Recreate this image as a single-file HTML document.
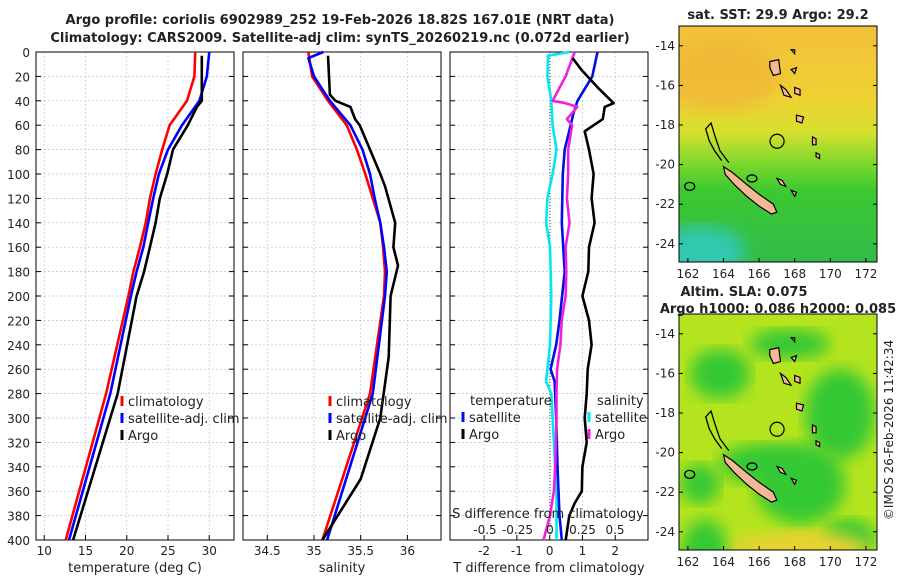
<!DOCTYPE html>
<html><head><meta charset="utf-8"><style>
body{margin:0;background:#fff}
svg text{font-family:"DejaVu Sans","Liberation Sans",sans-serif;fill:#222}
</style></head><body>
<svg id="fig" width="900" height="580" viewBox="0 0 900 580" xmlns="http://www.w3.org/2000/svg">
<defs>
<linearGradient id="sstg" x1="0" y1="0" x2="0" y2="1">
<stop offset="0" stop-color="#f2c03a"/><stop offset="0.3" stop-color="#f0d034"/>
<stop offset="0.45" stop-color="#d6e02e"/><stop offset="0.58" stop-color="#7ed82c"/>
<stop offset="0.7" stop-color="#3cc832"/><stop offset="1" stop-color="#32bc4a"/></linearGradient>
<filter id="blur8"><feGaussianBlur stdDeviation="8"/></filter>
<clipPath id="c1"><rect x="679" y="26" width="198" height="236"/></clipPath>
<clipPath id="c2"><rect x="679" y="314" width="198" height="236"/></clipPath>
</defs>
<text x="340" y="24" text-anchor="middle" font-size="13" font-weight="bold">Argo profile: coriolis 6902989_252 19-Feb-2026 18.82S 167.01E (NRT data)</text>
<text x="340" y="42" text-anchor="middle" font-size="13" font-weight="bold">Climatology: CARS2009. Satellite-adj clim: synTS_20260219.nc (0.072d earlier)</text>
<g id="panels"></g>
<g id="maps"></g>
<text transform="translate(893,430) rotate(-90)" text-anchor="middle" font-size="12">©IMOS 26-Feb-2026 11:42:34</text>
</svg>
<script>
// ---- data ----
const depthsT=[0,20,40,60,80,100,120,140,160,180,200,280,400];
const climT=[28.3,28.2,27.3,25.2,24.3,23.5,22.8,22.3,21.6,20.8,20.2,17.5,12.6];
const satT=[30.0,29.7,28.8,26.7,25.0,23.9,23.2,22.6,22.0,21.2,20.5,18.0,13.0];
const argoDepthT=[3,40,45,60,80,100,120,140,160,180,200,280,340,400];
const argoT=[29.1,29.1,28.5,27.4,25.6,24.9,24.0,23.5,22.8,22.1,21.2,18.9,16.2,13.5];
const depthsS=[0,20,40,60,80,100,120,140,160,180,200,280,400];
const climS=[34.94,34.98,35.15,35.35,35.46,35.55,35.63,35.71,35.74,35.76,35.75,35.6,35.09];
const satDepthS=[0,5,20,40,60,80,100,120,140,160,180,200,280,400];
const satS=[35.10,34.94,35.0,35.17,35.39,35.52,35.6,35.65,35.71,35.75,35.78,35.76,35.63,35.14];
const argoDepthS=[3,35,40,45,55,60,80,100,110,140,160,175,200,250,300,350,400];
const argoS=[35.15,35.17,35.23,35.39,35.44,35.49,35.6,35.71,35.76,35.87,35.85,35.9,35.82,35.8,35.71,35.5,35.09];
const dDepthT=[0,20,40,50,80,100,140,180,220,240,260,270,300,340,380,400];
const dSatT=[1.46,1.3,0.85,0.73,0.46,0.4,0.37,0.46,0.3,0.2,0.03,0.15,0.2,0.24,0.3,0.37];
const dArgoDepthT=[5,15,30,42,45,55,65,80,100,120,140,160,180,200,220,240,260,280,300,320,340,360,370,380,400];
const dArgoT=[0.7,0.98,1.5,1.95,1.68,1.62,1.07,1.2,1.34,1.28,1.37,1.2,1.18,1.0,1.2,1.28,1.16,1.13,1.07,1.13,1.0,0.98,0.76,0.6,0.49];
const dDepthS=[0,3,20,40,60,80,100,120,140,160,200,240,270,280,320,360,400];
const dSatS=[0.15,-0.015,-0.02,0.01,0.02,0.05,0.02,-0.02,-0.03,0,0.01,0,-0.03,0.01,0.03,0.05,0.05];
const dArgoDepthS=[0,20,40,42,45,55,60,80,100,120,140,160,180,200,220,240,260,280,300,340,360,380,400];
const dArgoS=[0.19,0.12,0.02,0.12,0.21,0.13,0.17,0.14,0.14,0.13,0.15,0.12,0.125,0.12,0.09,0.08,0.055,0.05,0.05,0.04,0.03,0,-0.05];
const depthTicks=[0,20,40,60,80,100,120,140,160,180,200,220,240,260,280,300,320,340,360,380,400];
const tTicks=[10,15,20,25,30];
const sTicks=[34.5,35,35.5,36];
const dTTicks=[-2,-1,0,1,2];
const dSTicks=[-0.5,-0.25,0,0.25,0.5];
const NS='http://www.w3.org/2000/svg';
function mk(tag,attrs,parent,txt){const e=document.createElementNS(NS,tag);for(const k in attrs)e.setAttribute(k,attrs[k]);if(txt!==undefined)e.textContent=txt;parent.appendChild(e);return e;}
const G=document.getElementById('panels');
const pTop=52,pBot=540;
const yD=d=>pTop+(pBot-pTop)*d/400;
function panel(name,x0,xmin,xmax,ticks,label,fmt){
  const g=mk('g',{},G);
  
  
  const w=198,xs=v=>x0+(v-xmin)/(xmax-xmin)*w;
  mk('rect',{x:x0,y:pTop,width:w,height:pBot-pTop,fill:'#fff'},g);
  depthTicks.forEach(d=>{const l=mk('line',{x1:x0,x2:x0+w,y1:yD(d),y2:yD(d),stroke:'#b8c4e8','stroke-width':0.7,'stroke-dasharray':'2,2'},g);
    
    
    mk('line',{x1:x0,x2:x0+5,y1:yD(d),y2:yD(d),stroke:'#000'},g);mk('line',{x1:x0+w-5,x2:x0+w,y1:yD(d),y2:yD(d),stroke:'#000'},g);});
  ticks.forEach(t=>{mk('line',{x1:xs(t),x2:xs(t),y1:pTop,y2:pBot,stroke:'#b8c4e8','stroke-width':0.7,'stroke-dasharray':'2,2'},g);
    mk('line',{x1:xs(t),x2:xs(t),y1:pBot,y2:pBot-5,stroke:'#000'},g);
    const tl=mk('text',{x:xs(t),y:pBot+15,'text-anchor':'middle','font-size':12},g,fmt(t));
    
    });
  mk('rect',{x:x0,y:pTop,width:w,height:pBot-pTop,fill:'none',stroke:'#000','stroke-width':1},g);
  const al=mk('text',{x:x0+w/2,y:pBot+32,'text-anchor':'middle','font-size':13},g,label);
  
  
  return {g,xs};
}
function line(p,xsF,vals,deps,color,name){
  const pts=vals.map((v,i)=>xsF(v).toFixed(1)+','+yD(deps[i]).toFixed(1)).join(' ');
  const l=mk('polyline',{points:pts,fill:'none',stroke:color,'stroke-width':2.6,'stroke-linejoin':'round'},p.g);
  
  
}
function legend(g,x,y,items){items.forEach((it,i)=>{const yy=y+i*17;
  mk('line',{x1:x,x2:x,y1:yy-10,y2:yy,stroke:it[1],'stroke-width':3},g);
  const t=mk('text',{x:x+6,y:yy,'font-size':13},g,it[0]);
  
  });}
// panel 1
const p1=panel('temperature-panel',36,9,33,tTicks,'temperature (deg C)',String);
depthTicks.forEach(d=>{const t=mk('text',{x:30,y:yD(d)+5,'text-anchor':'end','font-size':12},G,String(d));
  
  });
line(p1,p1.xs,climT,depthsT,'#f00','clim-temp-line');
line(p1,p1.xs,satT,depthsT,'#00f','sat-temp-line');
line(p1,p1.xs,argoT,argoDepthT,'#000','argo-temp-line');
legend(p1.g,122,406,[['climatology','#f00'],['satellite-adj. clim','#00f'],['Argo','#000']]);
// panel 2
const p2=panel('salinity-panel',243,34.24,36.36,sTicks,'salinity',String);
line(p2,p2.xs,climS,depthsS,'#f00','clim-sal-line');
line(p2,p2.xs,satS,satDepthS,'#00f','sat-sal-line');
line(p2,p2.xs,argoS,argoDepthS,'#000','argo-sal-line');
legend(p2.g,330,406,[['climatology','#f00'],['satellite-adj. clim','#00f'],['Argo','#000']]);
// panel 3
const p3=panel('difference-panel',450,-3.04,3,dTTicks,'T difference from climatology',String);
const xsS=v=>550+v*130;
mk('line',{x1:550,x2:550,y1:pTop,y2:pBot,stroke:'#444','stroke-width':1,'stroke-dasharray':'1,2'},p3.g);
line(p3,xsS,dSatS,dDepthS,'#00e8f0','sat-sal-diff-line');
line(p3,p3.xs,dSatT,dDepthT,'#0010e0','sat-temp-diff-line');
line(p3,xsS,dArgoS,dArgoDepthS,'#f020e0','argo-sal-diff-line');
line(p3,p3.xs,dArgoT,dArgoDepthT,'#000','argo-temp-diff-line');
mk('text',{x:470,y:405,'font-size':13},p3.g,'temperature');
mk('text',{x:597,y:405,'font-size':13},p3.g,'salinity');
legend(p3.g,463,422,[['satellite','#0010e0'],['Argo','#000']]);
legend(p3.g,589,422,[['satellite','#00e8f0'],['Argo','#f020e0']]);
const sl=mk('text',{x:548,y:518,'text-anchor':'middle','font-size':13},p3.g,'S difference from climatology');


dSTicks.forEach(s=>{const t=mk('text',{x:xsS(s),y:534,'text-anchor':'middle','font-size':12},p3.g,String(s));
  
  });
// maps
const M=document.getElementById('maps');
const lonTicks=[162,164,166,168,170,172];
const latTicks=[-14,-16,-18,-20,-22,-24];
const islands=[
 [[164.0,-20.1],[164.5,-20.4],[165.3,-21.0],[166.0,-21.5],[166.8,-22.0],[167.0,-22.4],[166.7,-22.5],[166.0,-22.1],[165.3,-21.6],[164.6,-21.0],[164.1,-20.5]],
 [[166.6,-14.8],[167.1,-14.7],[167.2,-15.4],[166.8,-15.5],[166.6,-15.1]],
 [[167.2,-16.0],[167.5,-16.2],[167.8,-16.6],[167.4,-16.5]],
 [[168.1,-17.5],[168.5,-17.6],[168.4,-17.9],[168.1,-17.8]],
 [[169.0,-18.6],[169.2,-18.7],[169.2,-19.0],[169.0,-19.0]],
 [[169.2,-19.4],[169.4,-19.5],[169.4,-19.7],[169.2,-19.6]],
 [[167.0,-20.7],[167.3,-20.8],[167.5,-21.1],[167.2,-21.0]],
 [[167.8,-21.3],[168.1,-21.4],[168.0,-21.6]],
 [[168.0,-16.1],[168.3,-16.2],[168.3,-16.5],[168.0,-16.4]],
 [[167.8,-14.2],[168.0,-14.2],[168.0,-14.4]],
 [[167.8,-15.2],[168.1,-15.1],[168.0,-15.4]]];
const reef=[[163.9,-19.8],[163.5,-19.3],[163.2,-18.8],[163.0,-18.2],[163.3,-17.9],[163.5,-18.5],[163.8,-19.3],[164.3,-19.9]];
function map(name,y0,isSst){
  const g=mk('g',{},M);
  
  
  const xs=l=>679+(l-161.5)*17.8, ys=l=>y0+(-13-l)*19.8;
  const b=mk('g',{'clip-path':'url(#'+(isSst?'c1':'c2')+')'},g);
  if(isSst){
    mk('rect',{x:679,y:y0,width:198,height:236,fill:'url(#sstg)'},b);
    mk('ellipse',{cx:700,cy:y0+225,rx:45,ry:25,fill:'#30c8b0',filter:'url(#blur8)'},b);
    mk('ellipse',{cx:720,cy:y0+50,rx:60,ry:35,fill:'#f0b438',filter:'url(#blur8)',opacity:0.7},b);
  } else {
    mk('rect',{x:679,y:y0,width:198,height:236,fill:'#b4e41e'},b);
    [[720,60,30,25],[840,100,35,45],[760,150,40,20],[800,170,45,40],[705,250,25,45],[700,170,20,20],[790,30,40,15],[850,225,25,20]].forEach(e=>
      mk('ellipse',{cx:e[0],cy:y0+e[1],rx:e[2],ry:e[3],fill:'#34c834',filter:'url(#blur8)'},b));
    mk('ellipse',{cx:800,cy:y0+235,rx:70,ry:18,fill:'#e8d030',filter:'url(#blur8)'},b);
  }
  mk('polyline',{points:reef.map(p=>xs(p[0])+','+ys(p[1])).join(' '),fill:'none',stroke:'#000','stroke-width':1.3},b);
  mk('ellipse',{cx:xs(162.1),cy:ys(-21.1),rx:5,ry:4,fill:'none',stroke:'#000','stroke-width':1.3},b);
  mk('ellipse',{cx:xs(165.6),cy:ys(-20.7),rx:5,ry:3.5,fill:'none',stroke:'#000','stroke-width':1.3},b);
  islands.forEach(is=>mk('polygon',{points:is.map(p=>xs(p[0])+','+ys(p[1])).join(' '),fill:'#f4b896',stroke:'#000','stroke-width':1.2},b));
  const c=mk('circle',{cx:xs(167.01),cy:ys(-18.82),r:7,fill:'none',stroke:'#000','stroke-width':1.2},b);
  
  
  mk('rect',{x:679,y:y0,width:198,height:236,fill:'none',stroke:'#000'},g);
  lonTicks.forEach(l=>{mk('line',{x1:xs(l),x2:xs(l),y1:y0+236,y2:y0+232,stroke:'#000'},g);
    const t=mk('text',{x:xs(l),y:y0+252,'text-anchor':'middle','font-size':12},g,String(l));
    
    });
  latTicks.forEach(l=>{mk('line',{x1:679,x2:683,y1:ys(l),y2:ys(l),stroke:'#000'},g);mk('line',{x1:873,x2:877,y1:ys(l),y2:ys(l),stroke:'#000'},g);
    const t=mk('text',{x:675,y:ys(l)+4,'text-anchor':'end','font-size':12},g,String(l));
    
    });
}
map('sst-map',26,true);
map('sla-map',314,false);
let mt=mk('text',{x:778,y:19,'text-anchor':'middle','font-size':13,'font-weight':'bold'},M,'sat. SST: 29.9 Argo: 29.2');


mt=mk('text',{x:744,y:296,'text-anchor':'middle','font-size':13,'font-weight':'bold'},M,'Altim. SLA: 0.075');


mt=mk('text',{x:778,y:313,'text-anchor':'middle','font-size':13,'font-weight':'bold'},M,'Argo h1000: 0.086 h2000: 0.085');


</script>
</body></html>
